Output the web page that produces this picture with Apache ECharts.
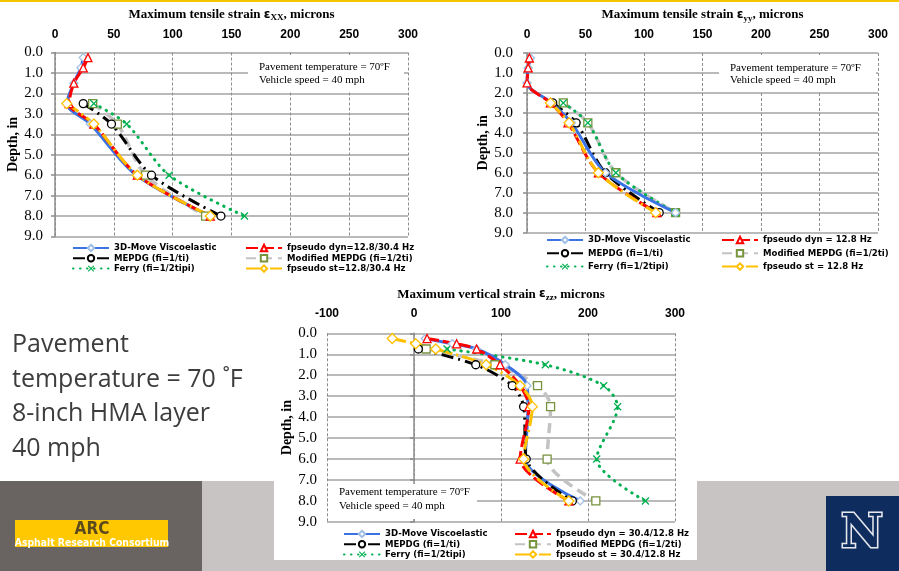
<!DOCTYPE html>
<html>
<head>
<meta charset="utf-8">
<script src="https://cdn.jsdelivr.net/npm/echarts@6/dist/echarts.min.js"></script>
<style>
  html, body { margin: 0; padding: 0; background: #fff; }
  #chart { width: 899px; height: 571px; }
</style>
</head>
<body>
<div id="chart"></div>
<script>
// ---- Strain profiles vs. depth (microns), pavement at 70°F, 40 mph ----

// Depths (in) at which each method reports strain
const depthFull = [0.25, 0.75, 1.5, 2.5, 3.5, 6.0, 8.0];
const depthLower = [2.5, 3.5, 6.0, 8.0];
const depthZzFull = [0.25, 0.5, 0.75, 1.5, 2.5, 3.5, 6.0, 8.0];
const depthZzLower = [0.75, 1.5, 2.5, 3.5, 6.0, 8.0];

// Maximum tensile strain εxx
const xxMove = [24, 22, 16, 10, 30, 69, 132];
const xxDyn = [28, 24, 16, 12, 33, 70, 132];
const xxMepdg = [24, 48, 82, 141];
const xxModMepdg = [32, 53, 77, 128];
const xxFerry = [33, 61, 97, 161];
const xxStatic = [10, 33, 70, 132];

// Maximum tensile strain εyy
const yyMove = [3, 1, 0, 21, 38, 67, 127];
const yyDyn = [2, 1, 0, 20, 35, 61, 111];
const yyMepdg = [22, 42, 67, 113];
const yyModMepdg = [31, 52, 76, 127];
const yyFerry = [31, 52, 76, 127];
const yyStatic = [20, 36, 61, 110];

// Maximum vertical strain εzz
const zzMove = [13, 44, 72, 105, 130, 131, 128, 191];
const zzDyn = [15, 49, 72, 99, 122, 132, 122, 178];
const zzStatic = [-25, 2, 25, 83, 122, 136, 126, 178];
const zzMepdg = [5, 71, 113, 126, 129, 182];
const zzModMepdg = [14, 93, 142, 157, 153, 209];
const zzFerry = [38, 151, 218, 234, 210, 266];

// Axis ticks
const depthTicks = [0, 1, 2, 3, 4, 5, 6, 7, 8, 9];
const strainTicksTensile = [0, 50, 100, 150, 200, 250, 300];
const strainTicksVertical = [-100, 0, 100, 200, 300];

// Legend labels
const nameMove = '3D-Move Viscoelastic';
const nameMepdg = 'MEPDG (fi=1/ti)';
const nameFerry = 'Ferry (fi=1/2tipi)';
const nameMod = 'Modified MEPDG (fi=1/2ti)';
const xxNameDyn = 'fpseudo dyn=12.8/30.4 Hz';
const xxNameSt = 'fpseudo st=12.8/30.4 Hz';
const yyNameDyn = 'fpseudo dyn = 12.8 Hz';
const yyNameSt = 'fpseudo st = 12.8 Hz';
const zzNameDyn = 'fpseudo dyn = 30.4/12.8 Hz';
const zzNameSt = 'fpseudo st = 30.4/12.8 Hz';

// ---- styling ----
const NARROW = '"Liberation Sans Narrow", "Arial Narrow", "DejaVu Sans Condensed", "Liberation Sans", sans-serif';
const X_MARK = 'path://M0,1.2L1.2,0L5,3.8L8.8,0L10,1.2L6.2,5L10,8.8L8.8,10L5,6.2L1.2,10L0,8.8L3.8,5Z';
const STYLE = {
  move:  { line: '#3b73e4', width: 3,   dash: 'solid',        symbol: 'diamond',  size: 8,  mark: '#9fbfe6' },
  dyn:   { line: '#ff0000', width: 3,   dash: [12, 4],        symbol: 'triangle', size: 8,  mark: '#ff0000' },
  mepdg: { line: '#000000', width: 3,   dash: [12, 5, 2, 5],  symbol: 'circle',   size: 8,  mark: '#000000' },
  mod:   { line: '#c3c3c3', width: 3.5, dash: [10, 6],        symbol: 'rect',     size: 8,  mark: '#77933c' },
  ferry: { line: '#00b050', width: 3,   dash: [0.5, 6.5],     symbol: X_MARK,     size: 8,  mark: '#00b050', solidMark: true, cap: 'round' },
  st:    { line: '#ffc000', width: 3,   dash: [14, 4, 2, 4],  symbol: 'diamond',  size: 10, mark: '#ffc000' }
};

function pairs(depths, values) {
  return values.map((v, i) => [v, depths[i]]);
}

function profile(name, key, idx, depths, values) {
  const s = STYLE[key];
  return {
    name: name,
    type: 'line',
    xAxisIndex: idx,
    yAxisIndex: idx,
    data: pairs(depths, values),
    smooth: 0.3,
    symbol: s.symbol,
    symbolSize: s.size,
    showAllSymbol: true,
    animation: false,
    lineStyle: { color: s.line, width: s.width, type: s.dash, cap: s.cap || 'butt' },
    itemStyle: s.solidMark
      ? { color: s.mark, borderWidth: 0 }
      : { color: '#ffffff', borderColor: s.mark, borderWidth: 1.3 },
    emphasis: { disabled: true }
  };
}

function xAxisFor(idx, ticks, title, gap, margin) {
  return {
    gridIndex: idx,
    type: 'value',
    position: 'top',
    min: ticks[0],
    max: ticks[ticks.length - 1],
    interval: ticks[1] - ticks[0],
    axisLine: { show: false },
    axisTick: { show: false },
    axisLabel: { fontFamily: 'Liberation Sans', fontWeight: 'bold', fontSize: 12, color: '#000', margin: margin },
    splitLine: { show: true, lineStyle: { color: '#8c8c8c', width: 1, type: [3, 2] } },
    name: title,
    nameLocation: 'middle',
    nameGap: gap,
    nameTextStyle: {
      color: '#000',
      rich: {
        a: { fontFamily: 'Liberation Serif', fontWeight: 'bold', fontSize: 13, color: '#000' },
        e: { fontFamily: 'DejaVu Sans', fontWeight: 'bold', fontSize: 12, color: '#000' },
        s: { fontFamily: 'Liberation Serif', fontWeight: 'bold', fontSize: 9, color: '#000', padding: [7, 0, 0, 0] }
      }
    }
  };
}

function yAxisFor(idx, margin, gap) {
  return {
    gridIndex: idx,
    type: 'value',
    inverse: true,
    min: depthTicks[0],
    max: depthTicks[depthTicks.length - 1],
    interval: depthTicks[1] - depthTicks[0],
    axisLine: { show: true, lineStyle: { color: '#8c8c8c', width: 1.5 } },
    axisTick: { show: true, length: 4, lineStyle: { color: '#8c8c8c', width: 1.5 } },
    axisLabel: { formatter: v => v.toFixed(1), fontFamily: 'Liberation Serif', fontSize: 15, color: '#000', margin: margin },
    splitLine: { show: true, lineStyle: { color: '#a3a3a3', width: 1.5 } },
    name: 'Depth, in',
    nameLocation: 'middle',
    nameRotate: 90,
    nameGap: gap,
    nameTextStyle: { fontFamily: 'Liberation Serif', fontWeight: 'bold', fontSize: 14, color: '#000' }
  };
}

function legendCol(names, left, top, gap) {
  return {
    data: names,
    orient: 'vertical',
    left: left,
    top: top,
    itemWidth: 36,
    itemHeight: 8,
    itemGap: gap,
    padding: 0,
    selectedMode: false,
    textStyle: { fontFamily: NARROW, fontWeight: 'bold condensed', fontSize: 9.5, color: '#000', lineHeight: 10 }
  };
}

function noteBox(x, y, w, h, tx, ty1, ty2) {
  const font = '11px "Liberation Serif"';
  return [
    { type: 'rect', z: 50, shape: { x: x, y: y, width: w, height: h }, style: { fill: '#ffffff' } },
    { type: 'text', z: 51, style: { text: 'Pavement temperature = 70\u00baF', x: tx, y: ty1, font: font, fill: '#000', verticalAlign: 'middle' } },
    { type: 'text', z: 51, style: { text: 'Vehicle speed = 40 mph', x: tx, y: ty2, font: font, fill: '#000', verticalAlign: 'middle' } }
  ];
}

const series = [
  // εxx
  profile(nameMod, 'mod', 0, depthLower, xxModMepdg),
  profile(nameFerry, 'ferry', 0, depthLower, xxFerry),
  profile(nameMepdg, 'mepdg', 0, depthLower, xxMepdg),
  profile(nameMove, 'move', 0, depthFull, xxMove),
  profile(xxNameDyn, 'dyn', 0, depthFull, xxDyn),
  profile(xxNameSt, 'st', 0, depthLower, xxStatic),
  // εyy
  profile(nameMod, 'mod', 1, depthLower, yyModMepdg),
  profile(nameFerry, 'ferry', 1, depthLower, yyFerry),
  profile(nameMepdg, 'mepdg', 1, depthLower, yyMepdg),
  profile(nameMove, 'move', 1, depthFull, yyMove),
  profile(yyNameDyn, 'dyn', 1, depthFull, yyDyn),
  profile(yyNameSt, 'st', 1, depthLower, yyStatic),
  // εzz
  profile(nameMod, 'mod', 2, depthZzLower, zzModMepdg),
  profile(nameFerry, 'ferry', 2, depthZzLower, zzFerry),
  profile(nameMove, 'move', 2, depthZzFull, zzMove),
  profile(nameMepdg, 'mepdg', 2, depthZzLower, zzMepdg),
  profile(zzNameDyn, 'dyn', 2, depthZzFull, zzDyn),
  profile(zzNameSt, 'st', 2, depthZzFull, zzStatic)
];

const slideGraphics = [
  // slide frame: gold rule, footer bands
  { type: 'rect', z: -5, shape: { x: 0, y: 0, width: 899, height: 2 }, style: { fill: '#f3c600' } },
  { type: 'rect', z: -5, shape: { x: 0, y: 481, width: 202, height: 90 }, style: { fill: '#696362' } },
  { type: 'rect', z: -5, shape: { x: 202, y: 481, width: 697, height: 90 }, style: { fill: '#c8c4c3' } },
  { type: 'rect', z: -4, shape: { x: 274, y: 470, width: 423, height: 90 }, style: { fill: '#ffffff' } },
  // ARC logo
  { type: 'rect', z: 5, shape: { x: 15, y: 520, width: 153, height: 27 }, style: { fill: '#ffc800' } },
  { type: 'text', z: 6, style: { text: 'ARC', x: 92, y: 530, align: 'center', verticalAlign: 'middle', font: 'bold condensed 17px ' + NARROW, fill: '#5b4a1c' } },
  { type: 'text', z: 6, style: { text: 'Asphalt Research Consortium', x: 92, y: 543, align: 'center', verticalAlign: 'middle', font: 'bold condensed 10.3px ' + NARROW, fill: '#ffffff' } },
  // university mark
  { type: 'rect', z: 5, shape: { x: 826, y: 496, width: 73, height: 75 }, style: { fill: '#0f2c5e' } },
  { type: 'text', z: 6, style: { text: 'N', x: 862, y: 535, align: 'center', verticalAlign: 'middle', font: 'bold 46px "DejaVu Serif"', fill: '#0f2c5e', stroke: '#e6e8ee', lineWidth: 3 } },
  // conditions summary
  { type: 'text', z: 6, style: { text: 'Pavement', x: 12, y: 345, verticalAlign: 'middle', font: '25px "Open Sans"', fill: '#3d3d3d' } },
  { type: 'text', z: 6, style: { text: 'temperature = 70 \u02daF', x: 12, y: 380, verticalAlign: 'middle', font: '25px "Open Sans"', fill: '#3d3d3d' } },
  { type: 'text', z: 6, style: { text: '8-inch HMA layer', x: 12, y: 414, verticalAlign: 'middle', font: '25px "Open Sans"', fill: '#3d3d3d' } },
  { type: 'text', z: 6, style: { text: '40 mph', x: 12, y: 449, verticalAlign: 'middle', font: '25px "Open Sans"', fill: '#3d3d3d' } }
]
  .concat(noteBox(248, 55, 156, 36, 259, 67, 80))
  .concat(noteBox(719, 55, 157, 36, 730, 68, 80))
  .concat(noteBox(328, 484, 149, 35, 339, 492, 506));

const option = {
  backgroundColor: '#ffffff',
  animation: false,
  grid: [
    { left: 55, top: 52.5, width: 353, height: 184 },
    { left: 527, top: 53, width: 351, height: 179.6 },
    { left: 327, top: 333.3, width: 348, height: 188.6 }
  ],
  xAxis: [
    xAxisFor(0, strainTicksTensile, '{a|Maximum tensile strain }{e|\u03b5}{s|XX}{a|, microns}', 30, 12),
    xAxisFor(1, strainTicksTensile, '{a|Maximum tensile strain }{e|\u03b5}{s|yy}{a|, microns}', 30, 12),
    xAxisFor(2, strainTicksVertical, '{a|Maximum vertical strain }{e|\u03b5}{s|zz}{a|, microns}', 31, 14)
  ],
  yAxis: [
    yAxisFor(0, 12, 28),
    yAxisFor(1, 14, 27),
    yAxisFor(2, 10, 32)
  ],
  legend: [
    legendCol([nameMove, nameMepdg, nameFerry], 72, 243, 0.3),
    legendCol([xxNameDyn, nameMod, xxNameSt], 245, 243, 0.3),
    legendCol([nameMove, nameMepdg, nameFerry], 546, 235, 3.3),
    legendCol([yyNameDyn, nameMod, yyNameSt], 721, 235, 3.3),
    legendCol([nameMove, nameMepdg, nameFerry], 343, 529, 0.2),
    legendCol([zzNameDyn, nameMod, zzNameSt], 514, 529, 0.2)
  ],
  graphic: { elements: slideGraphics },
  series: series
};

const chart = echarts.init(document.getElementById('chart'), null, { renderer: 'canvas' });
chart.setOption(option);
</script>
</body>
</html>
